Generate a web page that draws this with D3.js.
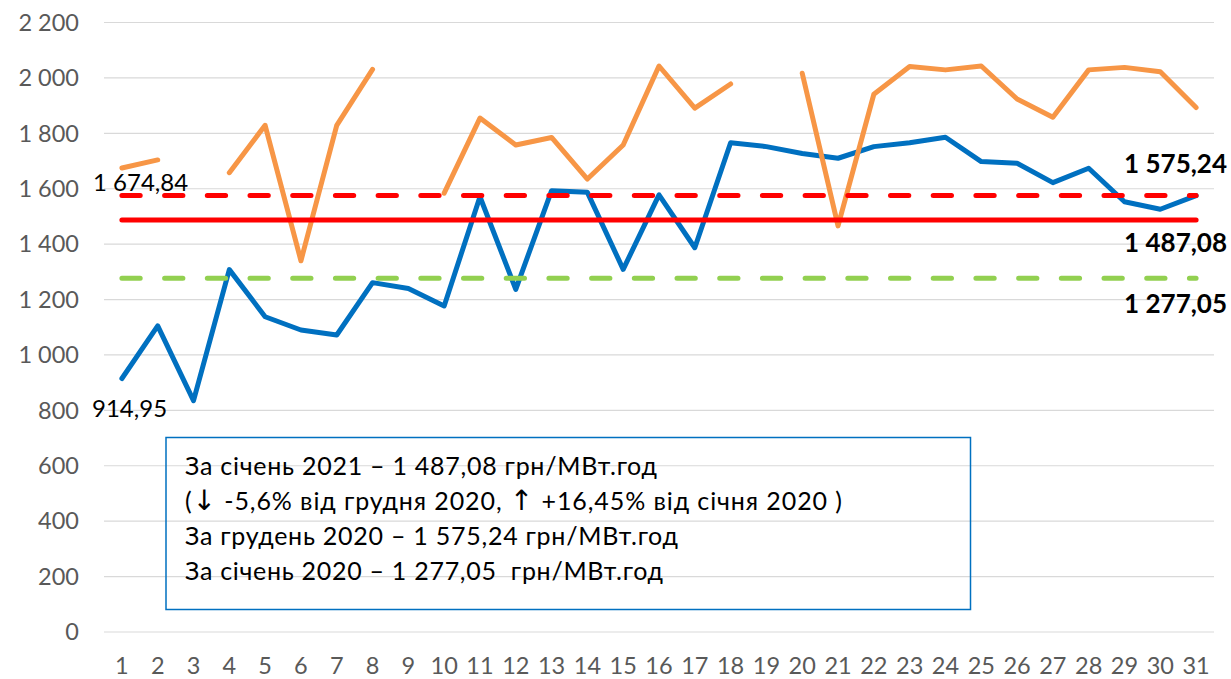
<!doctype html>
<html>
  <head>
    <script src="https://cdn.jsdelivr.net/npm/d3@7/dist/d3.min.js"></script>
    <style>
      body, html {
        margin: 0;
        background: #fff;
      }
      svg {
        display: block;
        font-family: Lato, "Open Sans", sans-serif;
      }
      line.grid {
        stroke: #d9d9d9;
        stroke-width: 1.2px;
      }
      path.series {
        fill: none;
        stroke-width: 5px;
        stroke-linecap: round;
        stroke-linejoin: round;
      }
      line.ref {
        stroke-width: 5px;
        stroke-linecap: round;
      }
      .tick-label {
        fill: #595959;
        font-size: 23.5px;
      }
      .arrow {
        font-family: "DejaVu Sans", sans-serif;
        font-size: 28px;
      }
    </style>
  </head>
  <body>
    <svg width="1231" height="679"></svg>
    <script>

      var days = d3.range(1, 32);
      var yTicks = [0, 200, 400, 600, 800, 1000, 1200, 1400, 1600, 1800, 2000, 2200];

      // січень 2021
      var jan2021 = [914.95, 1105, 835, 1308, 1138, 1090, 1072, 1261, 1240, 1177,
        1571, 1237, 1593, 1587, 1309, 1578, 1387, 1766, 1752, 1727,
        1710, 1752, 1766, 1786, 1698, 1692, 1622, 1674, 1553, 1526, 1575];

      // грудень 2020 (пропуски - null)
      var dec2020 = [1674.84, 1704, null, 1658, 1829, 1340, 1829, 2031, null, 1584,
        1855, 1758, 1785, 1635, 1758, 2043, 1891, 1978, null, 2017,
        1466, 1941, 2041, 2029, 2043, 1924, 1858, 2029, 2038, 2022, 1893];

      // середні: грудень 2020, січень 2021, січень 2020
      var refValues = [1575.24, 1487.08, 1277.05];

      // рядки тексту; "↓"/"↑" виводяться окремим шрифтом
      var boxLines = [
        ["За січень 2021 – 1 487,08 грн/МВт.год"],
        ["(", "↓", " -5,6% від грудня 2020, ", "↑", " +16,45% від січня 2020 )"],
        ["За грудень 2020 – 1 575,24 грн/МВт.год"],
        ["За січень 2020 – 1 277,05  грн/МВт.год"]
      ];
      var boxLineWidths = [472, 657, 493, 478];

      var svg = d3.select("svg");

      var x = d3.scalePoint().domain(days).range([104, 1214]).padding(0.5);
      var y = d3.scaleLinear().domain([0, 2200]).range([632, 22.5]);

      var locale = d3.formatLocale({ decimal: ",", thousands: " ", grouping: [3], currency: ["", ""] });
      var fmt = locale.format(",");
      var fmt2 = locale.format(",.2f");

      // сітка
      svg.selectAll("line.grid")
        .data(yTicks)
        .enter().append("line")
        .attr("class", "grid")
        .attr("x1", 104).attr("x2", 1214)
        .attr("y1", d => y(d)).attr("y2", d => y(d));

      svg.selectAll("text.ylab")
        .data(yTicks)
        .enter().append("text")
        .attr("class", "tick-label ylab")
        .attr("x", 79)
        .attr("y", d => y(d))
        .attr("dy", "0.35em")
        .attr("text-anchor", "end")
        .text(d => fmt(d));

      svg.selectAll("text.xlab")
        .data(days)
        .enter().append("text")
        .attr("class", "tick-label xlab")
        .attr("x", d => x(d))
        .attr("y", 666)
        .attr("dy", "0.35em")
        .attr("text-anchor", "middle")
        .text(d => d);

      // текстовий блок
      svg.append("rect")
        .attr("x", 166).attr("y", 437.5)
        .attr("width", 804.5).attr("height", 172)
        .attr("fill", "none")
        .attr("stroke", "#0070c0")
        .attr("stroke-width", 1.5);

      var boxText = svg.selectAll("text.box")
        .data(boxLines)
        .enter().append("text")
        .attr("class", "box")
        .attr("x", 185)
        .attr("y", (d, i) => 475 + i * 35)
        .attr("font-size", "25px")
        .attr("fill", "#000")
        .attr("textLength", (d, i) => boxLineWidths[i])
        .attr("lengthAdjust", "spacing")
        .style("white-space", "pre");

      boxText.selectAll("tspan")
        .data(d => d)
        .enter().append("tspan")
        .attr("class", d => (d === "↓" || d === "↑") ? "arrow" : null)
        .text(d => d);

      var line = d3.line()
        .defined(d => d != null)
        .x((d, i) => x(days[i]))
        .y(d => y(d));

      svg.append("path")
        .attr("class", "series")
        .attr("stroke", "#0070c0")
        .attr("d", line(jan2021));

      svg.append("path")
        .attr("class", "series")
        .attr("stroke", "#f79646")
        .attr("d", line(dec2020));

      // середні значення
      var refStyle = [
        { color: "#ff0000", dash: "18.3 24.4" },
        { color: "#ff0000", dash: null },
        { color: "#92d050", dash: "18.3 24.4" }
      ];

      refValues.forEach((v, i) => {
        svg.append("line")
          .attr("class", "ref")
          .attr("x1", x(1)).attr("x2", x(31))
          .attr("y1", y(v)).attr("y2", y(v))
          .attr("stroke", refStyle[i].color)
          .attr("stroke-dasharray", refStyle[i].dash);
      });

      var refLabelY = [173, 252, 313];
      svg.selectAll("text.reflab")
        .data(refValues)
        .enter().append("text")
        .attr("x", 1227)
        .attr("y", (d, i) => refLabelY[i])
        .attr("text-anchor", "end")
        .attr("font-size", "26px")
        .attr("font-weight", "bold")
        .attr("fill", "#000")
        .text(d => fmt2(d));

      // підписи точок
      svg.append("text")
        .attr("x", 93).attr("y", 191)
        .attr("font-size", "24px")
        .attr("fill", "#000")
        .text(fmt2(dec2020[0]));

      svg.append("text")
        .attr("x", 92).attr("y", 417)
        .attr("font-size", "24px")
        .attr("fill", "#000")
        .text(fmt2(jan2021[0]));

    </script>
  </body>
</html>
